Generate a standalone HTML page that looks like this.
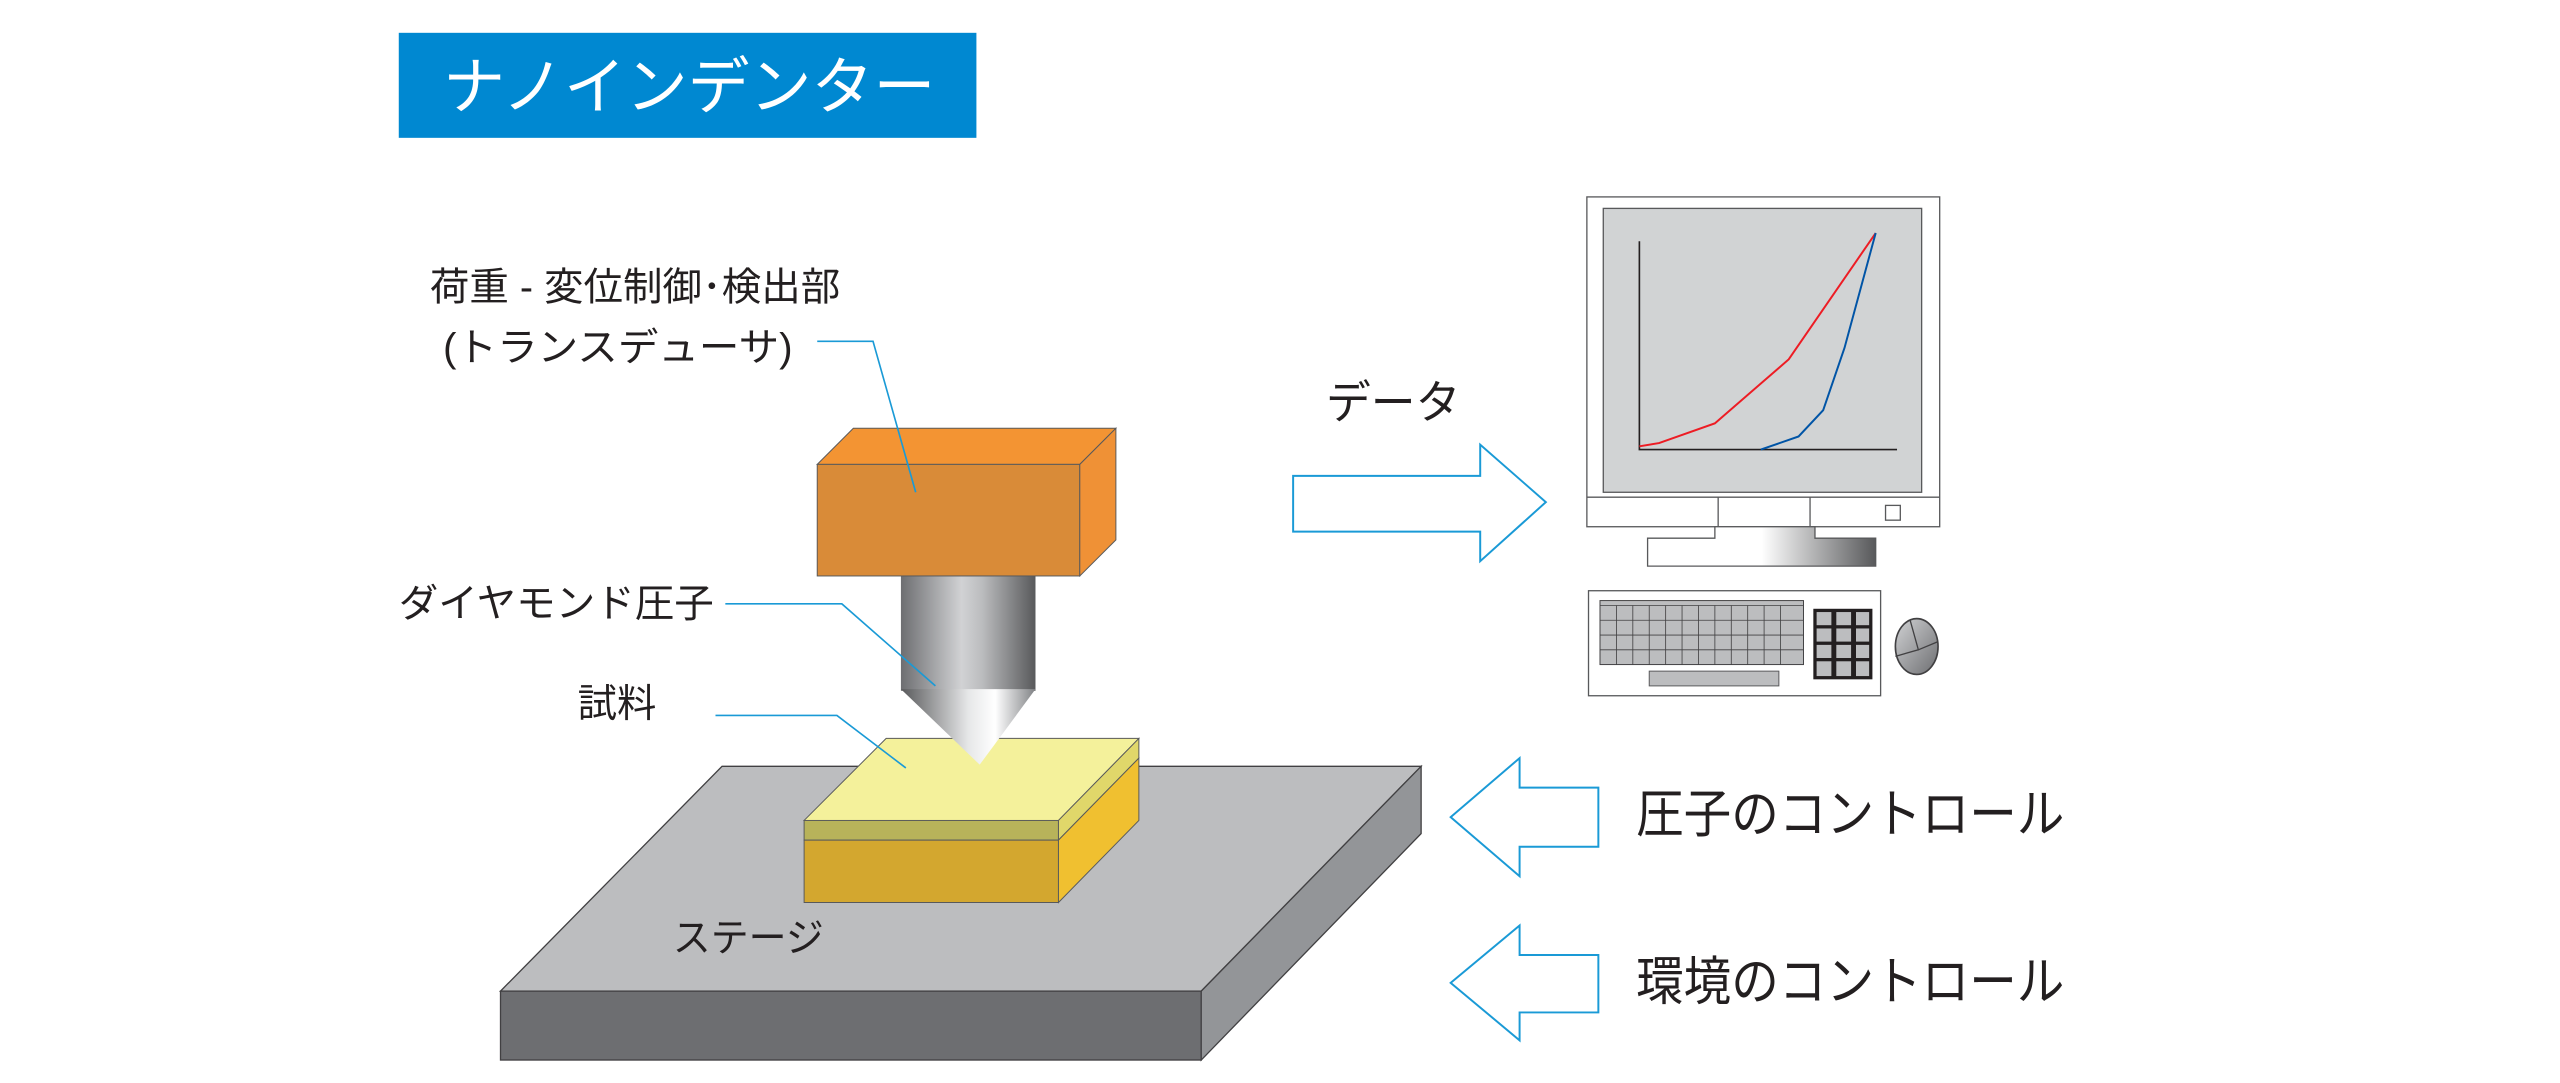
<!DOCTYPE html>
<html><head><meta charset="utf-8"><style>
html,body{margin:0;padding:0;background:#fff;}
svg{display:block;}
text{font-family:"Liberation Sans","Noto Sans CJK JP",sans-serif;fill:#231f20;}
</style></head><body>
<svg width="2560" height="1083" viewBox="0 0 1560 660" preserveAspectRatio="none" xmlns="http://www.w3.org/2000/svg">
<defs>
<linearGradient id="cyl" x1="0" x2="1" y1="0" y2="0">
<stop offset="0" stop-color="#6d6e71"/><stop offset="0.45" stop-color="#d1d2d4"/><stop offset="0.6" stop-color="#bcbdbf"/><stop offset="1" stop-color="#58595b"/>
</linearGradient>
<linearGradient id="cone" x1="0" x2="1" y1="0" y2="0">
<stop offset="0" stop-color="#58595b"/><stop offset="0.5" stop-color="#e6e7e8"/><stop offset="0.7" stop-color="#ffffff"/><stop offset="1" stop-color="#808285"/>
</linearGradient>
<linearGradient id="base" x1="0" x2="1" y1="0" y2="0">
<stop offset="0" stop-color="#fff"/><stop offset="0.5" stop-color="#fff"/><stop offset="1" stop-color="#58595b"/>
</linearGradient>
<linearGradient id="mouse" x1="0" x2="1" y1="0" y2="1">
<stop offset="0" stop-color="#d1d2d4"/><stop offset="1" stop-color="#6d6e71"/>
</linearGradient>
</defs>

<rect x="243" y="20" width="352" height="64" fill="#0088d1"/>
<text x="270" y="66" font-size="38" textLength="300" lengthAdjust="spacingAndGlyphs" style="fill:#fff">ナノインデンター</text>

<!-- stage -->
<polygon points="440,467 866,467 732,604 305,604" fill="#bcbdbf" stroke="#414042" stroke-width="0.8"/>
<rect x="305" y="604" width="427" height="42" fill="#6d6e71" stroke="#414042" stroke-width="0.8"/>
<polygon points="732,604 866,467 866,508 732,646" fill="#939598" stroke="#414042" stroke-width="0.8"/>

<!-- sample -->
<polygon points="490,500 540,450 694,450 645,500" fill="#f4f19b" stroke="#58595b" stroke-width="0.6"/>
<rect x="490" y="500" width="155" height="12" fill="#b8b35a" stroke="#58595b" stroke-width="0.6"/>
<rect x="490" y="512" width="155" height="38" fill="#d3a72f" stroke="#58595b" stroke-width="0.6"/>
<polygon points="645,500 694,450 694,462 645,512" fill="#e0d76a" stroke="#58595b" stroke-width="0.6"/>
<polygon points="645,512 694,462 694,500 645,550" fill="#f0c030" stroke="#58595b" stroke-width="0.6"/>

<!-- indenter -->
<rect x="549" y="351" width="82" height="70" fill="url(#cyl)"/>
<polygon points="549,420 631,420 597,466" fill="url(#cone)"/>

<!-- transducer -->
<polygon points="498,283 520,261 680,261 658,283" fill="#f39433" stroke="#58595b" stroke-width="0.6"/>
<rect x="498" y="283" width="160" height="68" fill="#d98b38" stroke="#58595b" stroke-width="0.6"/>
<polygon points="658,283 680,261 680,329 658,351" fill="#ef9136" stroke="#58595b" stroke-width="0.6"/>

<!-- leaders -->
<g fill="none" stroke="#1a9ad6" stroke-width="1">
<polyline points="498,208 532,208 558,300"/>
<polyline points="442,368 513,368 570,418"/>
<polyline points="436,436 510,436 552,468"/>
</g>

<text x="262" y="183" font-size="24" textLength="250" lengthAdjust="spacingAndGlyphs">荷重 - 変位制御･検出部</text>
<text x="270" y="220" font-size="24" textLength="213" lengthAdjust="spacingAndGlyphs">(トランスデューサ)</text>
<text x="243" y="376" font-size="24" textLength="192" lengthAdjust="spacingAndGlyphs">ダイヤモンド圧子</text>
<text x="352" y="437" font-size="24" textLength="48" lengthAdjust="spacingAndGlyphs">試料</text>
<text x="410" y="580" font-size="24" textLength="92" lengthAdjust="spacingAndGlyphs">ステージ</text>
<text x="808" y="255" font-size="28" textLength="82" lengthAdjust="spacingAndGlyphs">データ</text>
<text x="997" y="507" font-size="32" textLength="261" lengthAdjust="spacingAndGlyphs">圧子のコントロール</text>
<text x="997" y="609" font-size="32" textLength="261" lengthAdjust="spacingAndGlyphs">環境のコントロール</text>

<!-- arrows -->
<g fill="#fff" stroke="#1a9ad6" stroke-width="1.2">
<polygon points="788,290 902,290 902,271 942,306 902,342 902,324 788,324"/>
<polygon points="974,480 926,480 926,462 884,498 926,534 926,516 974,516"/>
<polygon points="974,582 926,582 926,564 884,599 926,634 926,617 974,617"/>
</g>

<!-- monitor -->
<g stroke="#58595b" stroke-width="0.8">
<rect x="967" y="120" width="215" height="201" fill="#fff"/>
<rect x="977" y="127" width="194" height="173" fill="#d1d3d4"/>
<line x1="967" y1="303" x2="1182" y2="303"/>
<line x1="1047" y1="303" x2="1047" y2="321"/>
<line x1="1103" y1="303" x2="1103" y2="321"/>
<rect x="1149" y="308" width="9" height="9" fill="#fff"/>
<polygon points="1045,321 1106,321 1106,328 1143,328 1143,345 1004,345 1004,328 1045,328" fill="url(#base)"/>
</g>
<polyline points="999,147 999,274 1156,274" fill="none" stroke="#231f20" stroke-width="1"/>
<polyline points="999,272 1011,270 1045,258 1090,219 1143,142" fill="none" stroke="#ed1c24" stroke-width="1.2"/>
<polyline points="1073,274 1096,266 1111,250 1124,212 1143,142" fill="none" stroke="#0054a6" stroke-width="1.2"/>

<!-- keyboard -->
<rect x="968" y="360" width="178" height="64" fill="#fff" stroke="#58595b" stroke-width="0.8"/>
<rect x="975" y="366" width="124" height="39" fill="#bcbdbf" stroke="#414042" stroke-width="0.6"/>
<g stroke="#414042" stroke-width="0.5">
<line x1="975" y1="369" x2="1099" y2="369"/>
<line x1="975" y1="378" x2="1099" y2="378"/>
<line x1="975" y1="387" x2="1099" y2="387"/>
<line x1="975" y1="396" x2="1099" y2="396"/>
<line x1="985" y1="369" x2="985" y2="405"/><line x1="995" y1="369" x2="995" y2="405"/>
<line x1="1005" y1="369" x2="1005" y2="405"/><line x1="1015" y1="369" x2="1015" y2="405"/>
<line x1="1025" y1="369" x2="1025" y2="405"/><line x1="1035" y1="369" x2="1035" y2="405"/>
<line x1="1045" y1="369" x2="1045" y2="405"/><line x1="1055" y1="369" x2="1055" y2="405"/>
<line x1="1065" y1="369" x2="1065" y2="405"/><line x1="1075" y1="369" x2="1075" y2="405"/>
<line x1="1085" y1="369" x2="1085" y2="405"/>
</g>
<rect x="1005" y="409" width="79" height="9" fill="#bcbdbf" stroke="#58595b" stroke-width="0.6"/>
<rect x="1105" y="371" width="36" height="43" fill="#231f20"/>
<g fill="#bcbdbf">
<rect x="1107" y="373" width="9" height="8"/><rect x="1119" y="373" width="9" height="8"/><rect x="1131" y="373" width="8" height="8"/>
<rect x="1107" y="383" width="9" height="8"/><rect x="1119" y="383" width="9" height="8"/><rect x="1131" y="383" width="8" height="8"/>
<rect x="1107" y="393" width="9" height="8"/><rect x="1119" y="393" width="9" height="8"/><rect x="1131" y="393" width="8" height="8"/>
<rect x="1107" y="403" width="9" height="9"/><rect x="1119" y="403" width="9" height="9"/><rect x="1131" y="403" width="8" height="9"/>
</g>
<ellipse cx="1168" cy="394" rx="13" ry="17" fill="url(#mouse)" stroke="#414042" stroke-width="1"/>
<polyline points="1164,378 1169,396 1155,400" fill="none" stroke="#414042" stroke-width="0.8"/>
<line x1="1169" y1="396" x2="1181" y2="391" stroke="#414042" stroke-width="0.8"/>
</svg>
</body></html>
